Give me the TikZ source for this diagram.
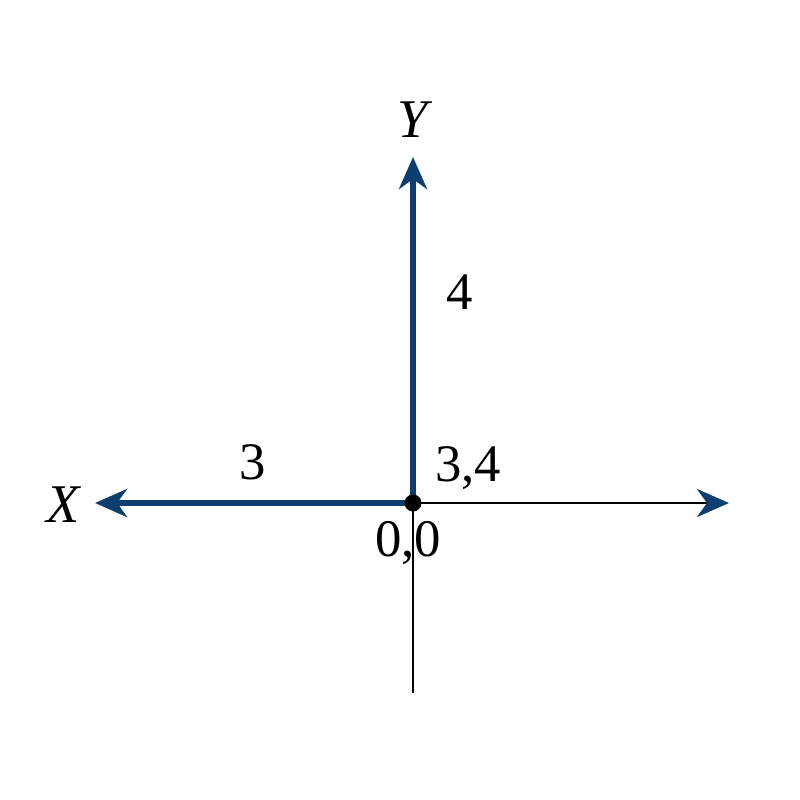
\documentclass[tikz,border=0pt]{standalone}
\usepackage{fontspec}
\setmainfont{Liberation Serif}
\usetikzlibrary{arrows.meta}
\definecolor{axblue}{RGB}{14,62,112}
\begin{document}
\begin{tikzpicture}[x=0.01cm,y=-0.01cm,
  thickax/.style={axblue,line width=1.7pt,-{Stealth[length=0.32cm,width=0.28cm,inset=0.1cm]}},
  thinax/.style={black,line width=0.75pt},
  lbl/.style={font=\fontsize{15}{17}\selectfont,inner sep=0pt}]
\useasboundingbox (0,0) rectangle (800,800);
\coordinate (O) at (413,503);
\coordinate (Xend) at (95,503);
\coordinate (Yend) at (413,157);
\coordinate (Rend) at (729,503);
\coordinate (Dend) at (413,693);
\draw[thinax] (O) -- (Dend);
\draw[thinax,-{Stealth[length=0.32cm,width=0.28cm,inset=0.1cm,color=axblue,fill=axblue]}] (O) -- (Rend);
\draw[thickax] (O) -- (Xend);
\draw[thickax] (O) -- (Yend);
\fill[black] (O) circle (8.5);
\node[lbl,font=\fontsize{15.5}{17}\selectfont\itshape] (xl) at (63,505) {X};
\node[lbl,font=\fontsize{15.5}{17}\selectfont\itshape] (yl) at (413,120) {Y};
\node[lbl] (four) at (460,292) {4};
\node[lbl] (three) at (253,462) {3};
\node[lbl] (tf) at (468,468) {3,4};
\node[lbl] (zz) at (408,543) {0,0};
\end{tikzpicture}
\end{document}
